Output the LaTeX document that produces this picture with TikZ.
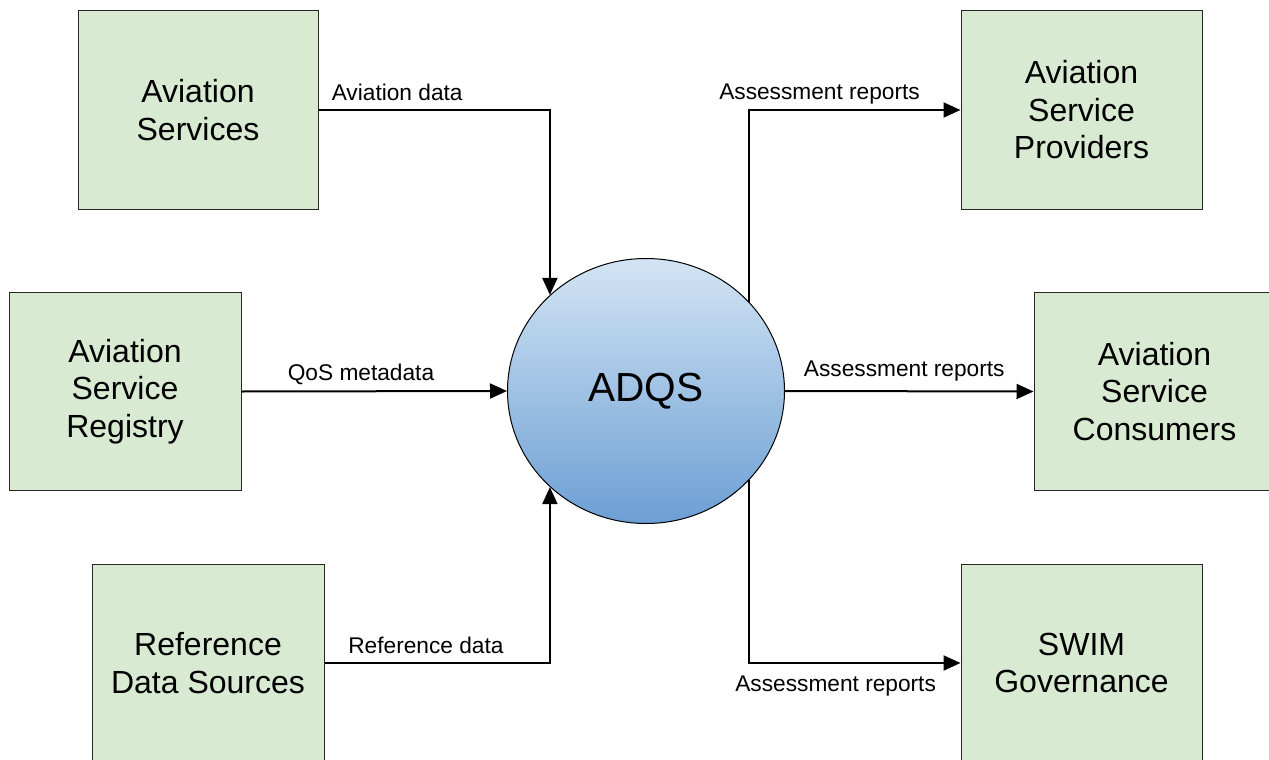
\documentclass[tikz,border=0pt]{standalone}
\usepackage{fontspec}
\setmainfont{Liberation Sans}
\usetikzlibrary{arrows.meta, shapes.geometric}
\definecolor{boxgreen}{HTML}{D9EAD3}
\definecolor{circtop}{HTML}{D3E4F4}
\definecolor{circbot}{HTML}{6C9FD4}

\begin{document}
\begin{tikzpicture}[x=1pt, y=-1pt,
  ent/.style = {draw=black!85, line width=1pt, fill=boxgreen, minimum height=198pt, align=center, inner sep=0pt, font=\fontsize{32}{37.5}\selectfont},
  flow/.style = {line width=2pt, -{Triangle[length=17pt, width=15pt]}},
  lbl/.style = {font=\fontsize{22.7}{26}\selectfont, inner sep=0pt}]
\useasboundingbox (0,0) rectangle (1269,760);
% sources
\node[ent, minimum width=240pt] (avs) at (198,110) {Aviation\\Services};
\node[ent, minimum width=232pt] (reg) at (125,391.5) {Aviation\\Service\\Registry};
\node[ent, minimum width=232pt] (rds) at (208,663) {Reference\\Data Sources};
% receivers
\node[ent, minimum width=241pt] (asp) at (1081.5,110) {Aviation\\Service\\Providers};
\node[ent, minimum width=241pt] (asc) at (1154.5,391.5) {Aviation\\Service\\Consumers};
\node[ent, minimum width=241pt] (swim) at (1081.5,663) {SWIM\\Governance};
% the service
\node[draw, line width=1pt, ellipse, minimum width=277pt, minimum height=265pt, top color=circtop, bottom color=circbot, font=\fontsize{40.6}{48}\selectfont] (adqs) at (646,391) {ADQS};

\draw[flow] (avs.east) -| node[lbl, pos=.17, above=8pt]{Aviation data} (adqs.135);
\draw[flow] (reg.east) -- node[lbl, pos=.45, above=5pt]{QoS metadata} (adqs.west);
\draw[flow] (rds.east) -| node[lbl, pos=.225, above=8pt]{Reference data} (adqs.-135);
\draw[flow] (adqs.41) |- node[lbl, pos=.667, above=5pt]{Assessment reports} (asp.west);
\draw[flow] (adqs.east) -- node[lbl, pos=.48, above=9pt]{Assessment reports} (asc.west);
\draw[flow] (adqs.-41) |- node[lbl, pos=.705, below=12pt]{Assessment reports} (swim.west);
\end{tikzpicture}
\end{document}
